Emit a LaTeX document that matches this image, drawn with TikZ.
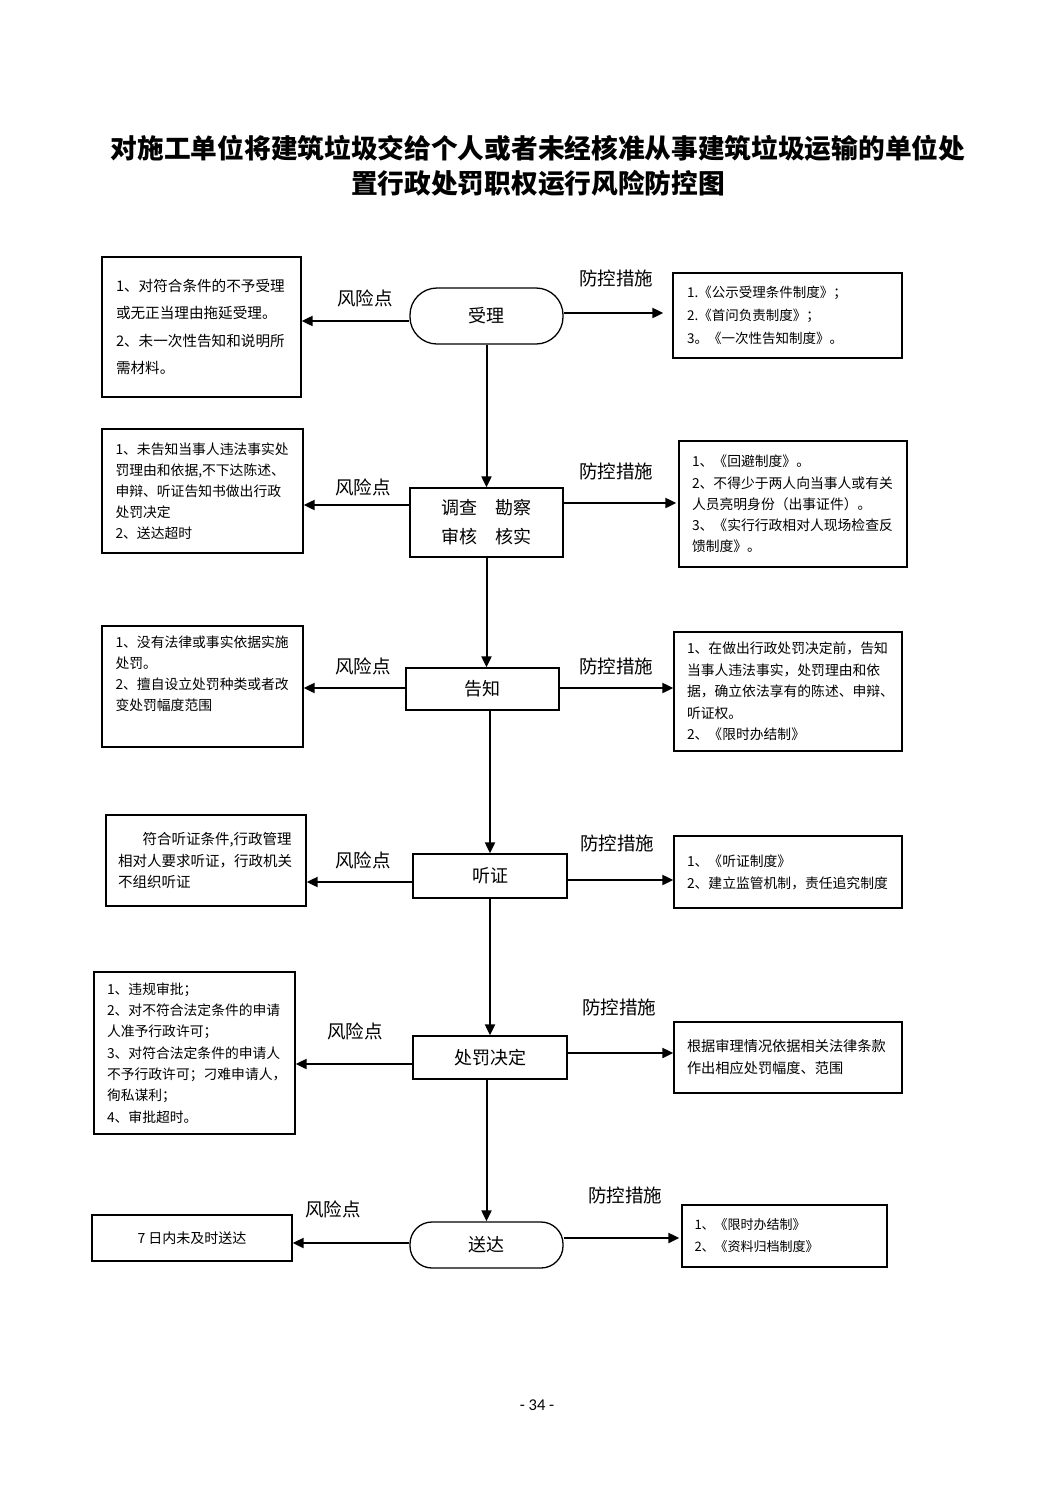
\documentclass[tikz,border=0pt]{standalone}
\usepackage{fontspec}
\setmainfont{Carlito}
\newfontfamily\cjk{Noto Sans CJK SC}
\usetikzlibrary{arrows.meta}
\newcommand\boxfont[2]{\cjk\fontsize{#1}{#2}\selectfont}

\begin{document}
\begin{tikzpicture}[x=1pt,y=-1pt,>={Triangle[length=11pt,width=10pt]},line width=1.3pt,
	box/.style={draw,align=left,inner sep=0pt},
	stage/.style={draw,minimum width=153pt,align=center,inner sep=0pt,font=\boxfont{18}{29}},
	oval/.style={stage,rounded corners=22pt},
	flow/.style={->,line width=2pt},
	tag/.style={font=\boxfont{18.5}{22}}]
	\fill[white] (0,0) rectangle (1063,1502);
	\useasboundingbox (0,0) rectangle (1063,1502);
	% title
	\node[align=center,font=\cjk\bfseries\fontsize{26.7}{35}\selectfont] (title) at (538,165.5)
	{对施工单位将建筑垃圾交给个人或者未经核准从事建筑垃圾运输的单位处\\置行政处罚职权运行风险防控图};
	% main chain
	\node[oval,rounded corners=27pt,minimum height=56pt] (s1) at (486.5,316) {受理};
	\node[stage,minimum height=69pt] (s2) at (486.5,522.5) {调查\hspace{1em}勘察\\审核\hspace{1em}核实};
	\node[stage,minimum height=42pt] (s3) at (482.5,689) {告知};
	\node[stage,minimum width=154pt,minimum height=44pt] (s4) at (490,876) {听证};
	\node[stage,minimum width=154pt,minimum height=43pt] (s5) at (490,1057.5) {处罚决定};
	\node[oval,minimum height=46pt] (s6) at (486.5,1245) {送达};
	% risk points
	\node[box,minimum width=199pt,minimum height=140pt,text width=171pt,font=\boxfont{14.6}{27.3}] (l1) at (201.5,327)
	{1、对符合条件的不予受理\\或无正当理由拖延受理。\\2、未一次性告知和说明所\\需材料。};
	\node[box,minimum width=201pt,minimum height=124pt,text width=174pt,font=\boxfont{13.8}{21}] (l2) at (202.5,491)
	{1、未告知当事人违法事实处\\罚理由和依据,不下达陈述、\\申辩、听证告知书做出行政\\处罚决定\\2、送达超时};
	\node[box,minimum width=201pt,minimum height=121pt,text width=174pt,font=\boxfont{13.8}{21}] (l3) at (202.5,686.5)
	{1、没有法律或事实依据实施\\处罚。\\2、擅自设立处罚种类或者改\\变处罚幅度范围\\ \strut};
	\node[box,minimum width=200pt,minimum height=91pt,text width=176pt,font=\boxfont{14.5}{21.5}] (l4) at (206,860.5)
	{\hspace*{1.7em}符合听证条件,行政管理\\相对人要求听证，行政机关\\不组织听证};
	\node[box,minimum width=201pt,minimum height=162pt,text width=175pt,font=\boxfont{13.8}{21.3}] (l5) at (194.5,1053)
	{1、违规审批；\\2、对不符合法定条件的申请\\人准予行政许可；\\3、对符合法定条件的申请人\\不予行政许可；刁难申请人，\\徇私谋利；\\4、审批超时。};
	\node[box,minimum width=200pt,minimum height=46pt,font=\boxfont{14}{18}] (l6) at (192,1238) {7 日内未及时送达};
	% control measures
	\node[box,minimum width=229pt,minimum height=85pt,text width=201pt,font=\boxfont{13.5}{23}] (r1) at (787.5,315.5)
	{1.《公示受理条件制度》；\\2.《首问负责制度》；\\3。《一次性告知制度》。};
	\node[box,minimum width=228pt,minimum height=126pt,text width=202pt,font=\boxfont{13.8}{21.2}] (r2) at (793,504)
	{1、《回避制度》。\\2、不得少于两人向当事人或有关\\人员亮明身份（出事证件）。\\3、《实行行政相对人现场检查反\\馈制度》。};
	\node[box,minimum width=228pt,minimum height=119pt,text width=202pt,font=\boxfont{13.8}{21.5}] (r3) at (788,691.5)
	{1、在做出行政处罚决定前，告知\\当事人违法事实，处罚理由和依\\据，确立依法享有的陈述、申辩、\\听证权。\\2、《限时办结制》};
	\node[box,minimum width=228pt,minimum height=72pt,text width=202pt,font=\boxfont{13.8}{22}] (r4) at (788,872)
	{1、《听证制度》\\2、建立监管机制，责任追究制度};
	\node[box,minimum width=228pt,minimum height=71pt,text width=202pt,font=\boxfont{14.2}{22}] (r5) at (788,1057.5)
	{根据审理情况依据相关法律条款\\作出相应处罚幅度、范围};
	\node[box,minimum width=205pt,minimum height=62pt,text width=180pt,font=\boxfont{13}{22}] (r6) at (784.5,1236)
	{1、《限时办结制》\\2、《资料归档制度》};
	% labels
	\foreach \n/\x/\y in {1/365/298,2/363/487,3/363/666,4/363/860,5/355/1031,6/333/1209}
	\node[tag] (risk\n) at (\x,\y) {风险点};
	\foreach \n/\x/\y in {1/616/278,2/616/471,3/616/666,4/617/843,5/619/1007,6/625/1195}
	\node[tag] (ctrl\n) at (\x,\y) {防控措施};
	% arrows
	\draw[flow] (s1) -- (s2);
	\draw[flow] (s2.south) -- (s2.south |- s3.north);
	\draw[flow] (s4.north |- s3.south) -- (s4.north);
	\draw[flow] (s4.south) -- (s5.north);
	\draw[flow] (s6.north |- s5.south) -- (s6.north);
	\draw[flow] (s1.west |- 0,321) -- (l1.east |- 0,321);
	\draw[flow] (s2.west |- 0,505) -- (l2.east |- 0,505);
	\draw[flow] (s3.west |- 0,688) -- (l3.east |- 0,688);
	\draw[flow] (s4.west |- 0,882) -- (l4.east |- 0,882);
	\draw[flow] (s5.west |- 0,1064) -- (l5.east |- 0,1064);
	\draw[flow] (s6.west |- 0,1243) -- (l6.east |- 0,1243);
	\draw[flow,shorten >=9pt] (s1.east |- 0,313) -- (r1.west |- 0,313);
	\draw[flow,shorten >=2pt] (s2.east |- 0,503) -- (r2.west |- 0,503);
	\draw[flow] (s3.east |- 0,688) -- (r3.west |- 0,688);
	\draw[flow] (s4.east |- 0,880) -- (r4.west |- 0,880);
	\draw[flow] (s5.east |- 0,1053) -- (r5.west |- 0,1053);
	\draw[flow,shorten >=2pt] (s6.east |- 0,1238) -- (r6.west |- 0,1238);
	% page number
	\node[font=\fontsize{16.5}{18}\selectfont] (page) at (537,1405) {- 34 -};
\end{tikzpicture}
\end{document}
